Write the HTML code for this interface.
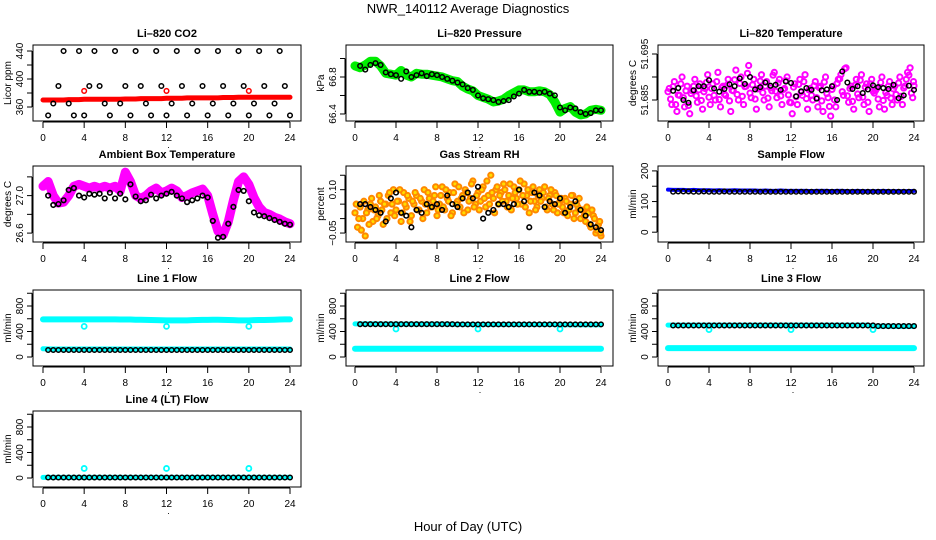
<!DOCTYPE html>
<html><head><meta charset="utf-8"><style>
html,body{margin:0;padding:0;background:#fff;}
svg{display:block;font-family:"Liberation Sans",Helvetica,Arial,sans-serif;}
</style></head><body>
<svg id="chart" width="936" height="540" viewBox="0 0 936 540">
<text x="468" y="13" text-anchor="middle" font-size="13">NWR_140112  Average Diagnostics</text>
<text x="468" y="531" text-anchor="middle" font-size="13">Hour of Day (UTC)</text>
</svg>
<script>
// ---------- data ----------
const xTicks = [0,4,8,12,16,20,24];
const xTickLabels = ["0","4","8","12","16","20","24"];
const hBlack = [0.5,1,1.5,2,2.5,3,3.5,4,4.5,5,5.5,6,6.5,7,7.5,8,8.5,9,9.5,10,10.5,11,11.5,12,12.5,13,13.5,14,14.5,15,15.5,16,16.5,17,17.5,18,18.5,19,19.5,20,20.5,21,21.5,22,22.5,23,23.5,24];
const hDense = [0,0.5,1,1.5,2,2.5,3,3.5,4,4.5,5,5.5,6,6.5,7,7.5,8,8.5,9,9.5,10,10.5,11,11.5,12,12.5,13,13.5,14,14.5,15,15.5,16,16.5,17,17.5,18,18.5,19,19.5,20,20.5,21,21.5,22,22.5,23,23.5,24];
const hQuarter = [0,0.25,0.5,0.75,1,1.25,1.5,1.75,2,2.25,2.5,2.75,3,3.25,3.5,3.75,4,4.25,4.5,4.75,5,5.25,5.5,5.75,6,6.25,6.5,6.75,7,7.25,7.5,7.75,8,8.25,8.5,8.75,9,9.25,9.5,9.75,10,10.25,10.5,10.75,11,11.25,11.5,11.75,12,12.25,12.5,12.75,13,13.25,13.5,13.75,14,14.25,14.5,14.75,15,15.25,15.5,15.75,16,16.25,16.5,16.75,17,17.25,17.5,17.75,18,18.25,18.5,18.75,19,19.25,19.5,19.75,20,20.25,20.5,20.75,21,21.25,21.5,21.75,22,22.25,22.5,22.75,23,23.25,23.5,23.75,24];
const hQuarter2 = [0.12,0.37,0.62,0.87,1.12,1.37,1.62,1.87,2.12,2.37,2.62,2.87,3.12,3.37,3.62,3.87,4.12,4.37,4.62,4.87,5.12,5.37,5.62,5.87,6.12,6.37,6.62,6.87,7.12,7.37,7.62,7.87,8.12,8.37,8.62,8.87,9.12,9.37,9.62,9.87,10.12,10.37,10.62,10.87,11.12,11.37,11.62,11.87,12.12,12.37,12.62,12.87,13.12,13.37,13.62,13.87,14.12,14.37,14.62,14.87,15.12,15.37,15.62,15.87,16.12,16.37,16.62,16.87,17.12,17.37,17.62,17.87,18.12,18.37,18.62,18.87,19.12,19.37,19.62,19.87,20.12,20.37,20.62,20.87,21.12,21.37,21.62,21.87,22.12,22.37,22.62,22.87,23.12,23.37,23.62,23.87,23.95];
const hSpikes = [4,12,20];

const co2Black = [348,365,390,440,365,348,440,348,390,440,390,365,348,440,365,390,348,440,390,365,348,440,390,348,365,440,390,348,365,440,390,348,365,440,390,348,365,440,390,348,365,440,390,348,365,440,390,348];
const co2Red = [370,370,370,370,370,370.5,370.5,370.5,371,371,371,371,371,371,371,371,371.5,371.5,371.5,372,372,372,372,372,372.5,372.5,372.5,372.5,373,373,373,373,373,373,373,373.5,373.5,373.5,374,374,374,374,374,374,374,374,374,374,374];
const co2Spikes = [383,383,383];

const presGreen = [66.92,66.90,66.93,66.97,66.97,66.92,66.84,66.83,66.82,66.87,66.82,66.80,66.84,66.83,66.83,66.82,66.81,66.80,66.78,66.76,66.75,66.70,66.67,66.65,66.60,66.58,66.56,66.53,66.54,66.56,66.60,66.63,66.66,66.66,66.64,66.64,66.65,66.64,66.61,66.53,66.42,66.46,66.48,66.42,66.39,66.40,66.44,66.45,66.44];
const presBlack = [66.92,66.88,66.93,66.95,66.93,66.85,66.83,66.82,66.78,66.86,66.80,66.82,66.84,66.81,66.83,66.82,66.80,66.78,66.76,66.74,66.72,66.68,66.66,66.60,66.57,66.56,66.55,66.53,66.54,66.55,66.59,66.62,66.66,66.64,66.64,66.63,66.64,66.62,66.60,66.47,66.44,66.47,66.46,66.42,66.40,66.41,66.44,66.44];

const tempMagenta = [51.6868,51.6852,51.6879,51.6840,51.6861,51.6885,51.6855,51.6870,51.6838,51.6864,51.6880,51.6859,51.6872,51.6849,51.6868,51.6888,51.6856,51.6875,51.6860,51.6890,51.6851,51.6877,51.6863,51.6882,51.6848,51.6871,51.6894,51.6862,51.6886,51.6858,51.6879,51.6908,51.6865,51.6883,51.6852,51.6874,51.6891,51.6866,51.6880,51.6854,51.6876,51.6904,51.6869,51.6887,51.6859,51.6873,51.6892,51.6861,51.6844,51.6878,51.6857,51.6884,51.6867,51.6890,51.6853,51.6872,51.6860,51.6881,51.6855,51.6877,51.6848,51.6889,51.6864,51.6836,51.6873,51.6850,51.6886,51.6896,51.6868,51.6918,51.6859,51.6875,51.6847,51.6882,51.6863,51.6893,51.6856,51.6878,51.6845,51.6885,51.6869,51.6871,51.6852,51.6888,51.6849,51.6866,51.6880,51.6854,51.6874,51.6862,51.6887,51.6858,51.6876,51.6895,51.6904,51.6865,51.6881];
const tempMagenta2 = [51.6875,51.6840,51.6890,51.6825,51.6860,51.6900,51.6835,51.6880,51.6820,51.6870,51.6895,51.6845,51.6885,51.6830,51.6875,51.6905,51.6840,51.6885,51.6850,51.6910,51.6835,51.6880,51.6860,51.6895,51.6825,51.6870,51.6915,51.6850,51.6900,51.6840,51.6880,51.6925,51.6855,51.6895,51.6830,51.6875,51.6905,51.6850,51.6890,51.6835,51.6870,51.6910,51.6855,51.6895,51.6840,51.6875,51.6900,51.6845,51.6820,51.6885,51.6840,51.6895,51.6860,51.6905,51.6830,51.6875,51.6850,51.6890,51.6835,51.6880,51.6825,51.6900,51.6855,51.6815,51.6880,51.6835,51.6895,51.6905,51.6860,51.6920,51.6845,51.6880,51.6830,51.6895,51.6855,51.6905,51.6840,51.6885,51.6825,51.6895,51.6865,51.6875,51.6835,51.6900,51.6830,51.6860,51.6890,51.6840,51.6880,51.6850,51.6900,51.6840,51.6880,51.6910,51.6920,51.6855,51.6890];
const tempBlack = [51.6870,51.6876,51.6850,51.6844,51.6871,51.6880,51.6880,51.6893,51.6875,51.6868,51.6874,51.6884,51.6880,51.6897,51.6885,51.6900,51.6873,51.6878,51.6888,51.6881,51.6883,51.6872,51.6890,51.6887,51.6858,51.6869,51.6876,51.6872,51.6853,51.6871,51.6873,51.6880,51.6850,51.6912,51.6888,51.6874,51.6880,51.6865,51.6873,51.6882,51.6878,51.6876,51.6874,51.6883,51.6854,51.6860,51.6881,51.6872];

const ambMagenta = [27.10,27.15,27.00,26.92,26.93,27.00,27.10,27.12,27.10,27.08,27.10,27.08,27.10,27.08,27.10,27.05,27.25,27.15,27.00,26.97,27.00,27.05,27.08,27.03,27.05,27.08,27.05,26.98,27.00,27.03,27.05,27.07,27.00,26.80,26.62,26.58,26.72,26.95,27.15,27.20,27.12,26.98,26.88,26.82,26.80,26.77,26.75,26.72,26.70];
const ambBlack = [27.00,26.90,26.91,26.95,27.06,27.08,27.00,26.98,27.02,27.01,27.02,26.97,27.03,26.97,27.02,26.96,27.12,26.99,26.94,26.95,27.01,26.97,27.00,27.02,27.04,27.00,26.97,26.93,26.95,26.97,27.00,26.98,26.73,26.55,26.56,26.70,26.88,27.06,27.05,26.94,26.82,26.79,26.78,26.76,26.74,26.72,26.70,26.69];

const rhOrange = [0.02,-0.03,0.04,0.00,-0.06,0.03,0.05,-0.01,0.04,0.01,0.06,-0.02,0.05,0.08,0.02,0.10,0.03,0.06,-0.01,0.09,0.04,0.07,0.01,0.05,0.08,0.03,0.06,0.10,0.02,0.07,0.04,0.08,0.01,0.05,0.11,0.03,0.07,0.09,0.02,0.12,0.06,0.04,0.08,0.10,0.03,0.07,0.13,0.05,0.09,0.06,0.11,0.04,0.08,0.15,0.07,0.10,0.05,0.09,0.12,0.06,0.08,0.03,0.11,0.07,0.10,0.05,0.12,0.08,0.02,0.09,0.06,0.04,0.10,0.07,0.11,0.03,0.08,0.05,0.09,0.02,0.06,0.04,0.07,0.01,0.05,0.08,0.02,0.04,0.00,0.03,-0.01,0.02,-0.03,0.01,-0.05,-0.02,-0.06];
const rhOrange2 = [0.05,0.00,-0.04,0.06,0.02,-0.02,0.07,0.03,0.00,0.08,0.03,0.05,0.00,0.09,0.05,0.01,0.06,0.10,0.02,0.05,0.08,-0.01,0.06,0.09,0.03,0.07,0.00,0.05,0.09,0.04,0.06,0.11,0.03,0.08,0.04,0.10,0.06,0.01,0.09,0.05,0.11,0.07,0.02,0.09,0.06,0.12,0.04,0.08,0.03,0.10,0.07,0.13,0.05,0.09,0.02,0.11,0.08,0.06,0.10,0.04,0.12,0.07,0.09,0.05,0.13,0.08,0.04,0.10,0.06,0.11,0.03,0.08,0.06,0.09,0.04,0.07,0.10,0.03,0.08,0.05,0.07,0.02,0.06,0.03,0.08,0.00,0.05,0.07,0.03,0.01,0.04,-0.02,0.03,0.00,-0.04,-0.01,-0.05];
const rhBlack = [0.05,0.05,0.04,0.03,0.02,-0.01,0.07,0.09,0.02,0.01,-0.03,0.03,0.02,0.05,0.04,0.05,0.03,0.08,0.05,0.04,0.07,0.09,0.07,0.11,0.00,0.02,0.03,0.05,0.05,0.04,0.05,0.10,0.06,-0.03,0.09,0.08,0.04,0.06,0.05,0.07,0.02,0.04,0.06,0.03,0.01,-0.02,-0.03,-0.04];

const sampleBlue = [139,138,138,138,137,138,137,137,137,136,137,136,136,137,136,136,136,136,135,136,135,135,136,135,135,135,135,135,134,135,135,135,134,135,135,134,134,135,134,134,134,134,135,134,134,134,134,134,135];
const sampleBlack = [132,133,133,133,132,132,133,132,132,132,133,132,132,132,132,132,132,132,132,132,132,132,132,132,132,132,132,132,132,132,132,132,132,132,132,132,132,132,132,132,132,132,132,132,132,132,132,132];

const line1Cyan = [590,590,590,590,590,590,590,590,590,590,590,590,590,590,590,588,588,588,585,585,583,580,578,576,575,575,575,575,575,578,580,582,582,585,585,583,580,578,575,575,575,578,580,580,582,585,588,590,590];
const line1CyanLow = [130,128,125,125,125,125,125,125,125,125,125,125,125,125,125,125,125,125,125,125,125,125,125,125,125,125,125,125,125,125,125,125,125,125,125,125,125,125,125,125,125,125,125,125,125,125,125,125,125];
const line1Black = [110,110,110,110,110,110,110,110,110,110,110,110,110,110,110,110,110,110,110,110,110,110,110,110,110,110,110,110,110,110,110,110,110,110,110,110,110,110,110,110,110,110,110,110,110,110,110,110];
const line1Spikes = [480,480,480];

const line2Cyan = [520,520,520,520,520,518,518,518,515,515,515,515,515,515,515,515,515,515,515,512,512,512,510,510,510,510,510,510,510,510,510,510,510,510,510,510,510,510,510,510,505,505,505,505,505,505,505,505,505];
const line2CyanLow = [130,130,130,130,130,130,130,130,130,130,130,130,130,130,130,130,130,130,130,130,130,130,130,130,130,130,130,130,130,130,130,130,130,130,130,130,130,130,130,130,130,130,130,130,130,130,130,130,130];
const line2Black = [515,515,515,515,515,515,515,515,515,515,515,515,515,515,515,515,515,515,515,512,512,512,512,512,512,512,512,512,512,512,512,512,512,512,512,512,512,512,512,512,512,512,512,512,512,512,512,512];
const line2Spikes = [440,440,440];

const line3Cyan = [500,500,500,500,500,500,500,500,500,500,500,500,500,500,500,500,500,500,500,500,500,500,500,500,500,500,500,500,500,500,500,500,500,500,500,500,500,500,500,500,485,485,485,485,480,480,480,480,480];
const line3CyanLow = [140,140,140,140,140,140,140,140,140,140,140,140,140,140,140,140,140,140,140,140,140,140,140,140,140,140,140,140,140,140,140,140,140,140,140,140,140,140,140,140,140,140,140,140,140,140,140,140,140];
const line3Black = [495,495,495,495,495,495,495,495,495,495,495,495,495,495,495,495,495,495,495,495,495,495,495,495,495,495,495,495,495,495,495,495,495,495,495,495,495,495,495,495,485,485,485,485,485,485,485,485];
const line3Spikes = [430,430,430];

const line4Cyan = [10,10,10,10,10,10,10,10,10,10,10,10,10,10,10,10,10,10,10,10,10,10,10,10,10,10,10,10,10,10,10,10,10,10,10,10,10,10,10,10,10,10,10,10,10,10,10,10,10];
const line4Black = [8,8,8,8,8,8,8,8,8,8,8,8,8,8,8,8,8,8,8,8,8,8,8,8,8,8,8,8,8,8,8,8,8,8,8,8,8,8,8,8,8,8,8,8,8,8,8,8];
const line4Spikes = [150,150,150];

const flowTicks = [0,200,400,600,800,1000];
const flowTickLabels = ["0","","400","","800",""];

// ---------- drawing ----------
const svg = document.getElementById('chart');
const NS = 'http://www.w3.org/2000/svg';
function mk(tag, attrs, parent){
  const e = document.createElementNS(NS, tag);
  for (const k in attrs) e.setAttribute(k, attrs[k]);
  (parent||svg).appendChild(e);
  return e;
}
const cols = [{l:33,r:301,x0:43,x24:290},{l:346,r:613,x0:355,x24:601},{l:658,r:924,x0:668,x24:914}];
const rows = [45,166,290,411];
const H = 76;

function panel(name, title, ytitle, col, row, ymin, ymax, yt, ytl){
  const c = cols[col], top = rows[row], bot = top + H;
  const g = mk('g', {});
  
  
  const xs = v => c.x0 + (v/24)*(c.x24 - c.x0);
  const ys = v => bot - (v - ymin)/(ymax - ymin)*H;
  const t = mk('text', {x:(c.l+c.r)/2, y:top-8, 'text-anchor':'middle', 'font-size':'11', 'font-weight':'bold'}, g);
  t.textContent = title;
  
  
  const xa = mk('g', {}, g);
  
  
  mk('line', {x1:xs(xTicks[0]), x2:xs(xTicks[xTicks.length-1]), y1:bot+1, y2:bot+1, stroke:'#000'}, xa);
  xTicks.forEach((v,i)=>{
    mk('line', {x1:xs(v), x2:xs(v), y1:bot+1, y2:bot+7, stroke:'#000'}, xa);
    const tl = mk('text', {x:xs(v), y:bot+20, 'text-anchor':'middle', 'font-size':'10'}, xa);
    tl.textContent = xTickLabels[i];
    
    
  });
  const dot = mk('text', {x:xs(12)+2, y:bot+27, 'text-anchor':'middle', 'font-size':'9'}, xa);
  dot.textContent = '.';
  const ya = mk('g', {}, g);
  
  
  mk('line', {x1:c.l-1, x2:c.l-1, y1:ys(yt[0]), y2:ys(yt[yt.length-1]), stroke:'#000'}, ya);
  yt.forEach((v,i)=>{
    const yy = ys(v);
    mk('line', {x1:c.l-1, x2:c.l-6, y1:yy, y2:yy, stroke:'#000'}, ya);
    if (ytl[i]) {
      const tl = mk('text', {x:c.l-10, y:yy, 'text-anchor':'middle', 'font-size':'10', transform:`rotate(-90 ${c.l-10} ${yy})`}, ya);
      tl.textContent = ytl[i];
      
      
    }
  });
  const cy = (top+bot)/2;
  const yl = mk('text', {x:c.l-22, y:cy, 'text-anchor':'middle', 'font-size':'10', transform:`rotate(-90 ${c.l-22} ${cy})`}, g);
  yl.textContent = ytitle;
  
  
  const cid = 'clip-' + name;
  const cp = mk('clipPath', {id:cid}, g);
  mk('rect', {x:c.l, y:top, width:c.r-c.l, height:H}, cp);
  const data = mk('g', {'clip-path':`url(#${cid})`}, g);
  
  
  const box = mk('rect', {x:c.l, y:top, width:c.r-c.l, height:H, fill:'none', stroke:'#000', 'stroke-width':'1'}, g);
  
  
  return {xs, ys, data};
}
function band(p, xsArr, ysArr, color, w, nm){
  const pts = xsArr.map((x,i)=>p.xs(x)+','+p.ys(ysArr[i])).join(' ');
  const pl = mk('polyline', {points:pts, fill:'none', stroke:color, 'stroke-width':w, 'stroke-linejoin':'round', 'stroke-linecap':'round'}, p.data);
  
  
}
function pts(p, xsArr, ysArr, color, r, sw, nm, fill){
  xsArr.forEach((x,i)=>{
    const c = mk('circle', {cx:p.xs(x), cy:p.ys(ysArr[i]), r:r, fill:fill||'none', stroke:color, 'stroke-width':sw}, p.data);
    
    
  });
}

let p = panel('co2', 'Li\u2013820 CO2', 'Licor ppm', 0, 0, 340, 448.6, [360,380,400,420,440], ['360','','400','','440']);
band(p, hDense, co2Red, '#ff0000', 5, 'co2-red-series');
pts(p, hSpikes, co2Spikes, '#ff0000', 2.3, 1.5, 'co2-red-spike');
pts(p, hBlack, co2Black, '#000', 2.3, 1.5, 'co2-black-point');

p = panel('pressure', 'Li\u2013820 Pressure', 'kPa', 1, 0, 66.324, 67.146, [66.4,66.6,66.8,67.0], ['66.4','','66.8','']);
band(p, hDense, presGreen, '#00ee00', 9, 'pressure-green-series');
pts(p, hBlack, presBlack, '#000', 2.3, 1.5, 'pressure-black-point');

p = panel('licor-temp', 'Li\u2013820 Temperature', 'degrees C', 2, 0, 51.68043, 51.69696, [51.685,51.690,51.695], ['51.685','','51.695']);
pts(p, hQuarter, tempMagenta, '#ff00ff', 2.6, 2, 'temp-magenta-point');
pts(p, hQuarter2, tempMagenta2, '#ff00ff', 2.6, 2, 'temp-magenta-point');
pts(p, hBlack, tempBlack, '#000', 2.3, 1.5, 'temp-black-point');

p = panel('ambient-temp', 'Ambient Box Temperature', 'degrees C', 0, 1, 26.505, 27.316, [26.6,26.8,27.0,27.2], ['26.6','','27.0','']);
band(p, hDense, ambMagenta, '#ff00ff', 9, 'ambient-magenta-series');
pts(p, hBlack, ambBlack, '#000', 2.3, 1.6, 'ambient-black-point');

p = panel('gas-rh', 'Gas Stream RH', 'percent', 1, 1, -0.081, 0.182, [-0.05,0,0.05,0.10,0.15], ['\u22120.05','','','0.10','']);
pts(p, hQuarter, rhOrange, '#ff8800', 2.6, 2, 'rh-orange-point', '#ffdd00');
pts(p, hQuarter2, rhOrange2, '#ff8800', 2.6, 2, 'rh-orange-point', '#ffdd00');
pts(p, hBlack, rhBlack, '#000', 2.3, 1.6, 'rh-black-point');

p = panel('sample-flow', 'Sample Flow', 'ml/min', 2, 1, -32, 216, [0,50,100,150,200], ['0','','100','','200']);
band(p, hDense, sampleBlue, '#0000ff', 4, 'sample-blue-series');
pts(p, hBlack, sampleBlack, '#000', 2.3, 1.5, 'sample-black-point');

p = panel('line1-flow', 'Line 1 Flow', 'ml/min', 0, 2, -141, 1051, flowTicks, flowTickLabels);
band(p, hDense, line1Cyan, '#00ffff', 6, 'line1-cyan-series');
band(p, hDense, line1CyanLow, '#00ffff', 5, 'line1-cyan-low-series');
pts(p, hSpikes, line1Spikes, '#00ffff', 2.5, 1.8, 'line1-cyan-spike');
pts(p, hBlack, line1Black, '#000', 2.3, 1.5, 'line1-black-point');

p = panel('line2-flow', 'Line 2 Flow', 'ml/min', 1, 2, -141, 1051, flowTicks, flowTickLabels);
band(p, hDense, line2Cyan, '#00ffff', 5, 'line2-cyan-series');
band(p, hDense, line2CyanLow, '#00ffff', 6, 'line2-cyan-low-series');
pts(p, hSpikes, line2Spikes, '#00ffff', 2.5, 1.8, 'line2-cyan-spike');
pts(p, hBlack, line2Black, '#000', 2.3, 1.5, 'line2-black-point');

p = panel('line3-flow', 'Line 3 Flow', 'ml/min', 2, 2, -141, 1051, flowTicks, flowTickLabels);
band(p, hDense, line3Cyan, '#00ffff', 5, 'line3-cyan-series');
band(p, hDense, line3CyanLow, '#00ffff', 6, 'line3-cyan-low-series');
pts(p, hSpikes, line3Spikes, '#00ffff', 2.5, 1.8, 'line3-cyan-spike');
pts(p, hBlack, line3Black, '#000', 2.3, 1.5, 'line3-black-point');

p = panel('line4-flow', 'Line 4 (LT) Flow', 'ml/min', 0, 3, -141, 1051, flowTicks, flowTickLabels);
band(p, hDense, line4Cyan, '#00ffff', 5, 'line4-cyan-series');
pts(p, hSpikes, line4Spikes, '#00ffff', 2.5, 1.8, 'line4-cyan-spike');
pts(p, hBlack, line4Black, '#000', 2.3, 1.5, 'line4-black-point');
</script>
</body></html>
